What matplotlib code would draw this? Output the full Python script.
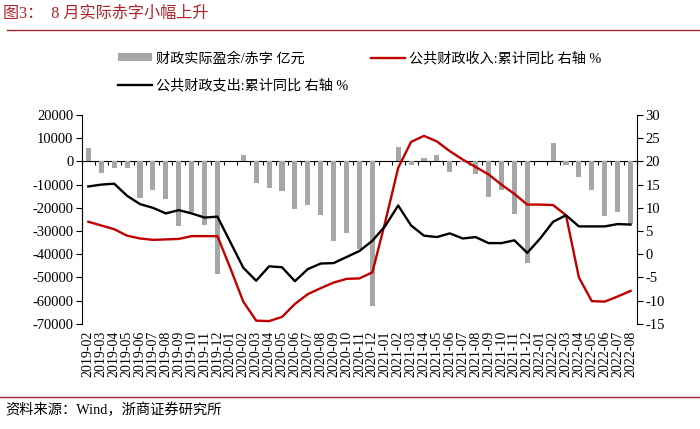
import matplotlib.pyplot as plt
import numpy as np
from matplotlib.lines import Line2D

plt.rcParams['font.family'] = ['Liberation Serif', 'Noto Sans CJK SC']
plt.rcParams['axes.unicode_minus'] = False

# 2019-02 .. 2022-08
months = [f'{y}-{m:02d}' for y in (2019, 2020, 2021, 2022) for m in range(1, 13)]
months = months[1:44]

nan = np.nan
# 财政实际盈余/赤字 (亿元), 1月无数据
balance = [5700, -5000, -3000, -3000, -15700, -12300, -16000, -27800, -22000, -27400, -48400,
           nan, 2900, -9300, -11600, -12600, -20300, -18700, -23100, -34100, -30700, -37800, -62400,
           nan, 6000, -1400, 1400, 2900, -4600, -300, -5300, -15300, -12300, -22700, -43700,
           nan, 7900, -1400, -6600, -12300, -23600, -21700, -27100]

# 公共财政收入:累计同比 (%)
revenue = [7.0, 6.2, 5.4, 4.0, 3.4, 3.1, 3.2, 3.3, 3.9, 3.9, 3.9,
           -3.0, -10.2, -14.3, -14.4, -13.5, -10.7, -8.6, -7.3, -6.1, -5.3, -5.2, -3.9,
           7.0, 18.6, 24.2, 25.5, 24.3, 22.2, 20.4, 18.8, 17.2, 15.0, 13.0, 10.7,
           10.7, 10.6, 8.4, -5.0, -10.1, -10.2, -9.1, -7.9]

# 公共财政支出:累计同比 (%)
spending = [14.6, 15.0, 15.2, 12.6, 10.8, 10.0, 8.8, 9.5, 8.8, 7.9, 8.1,
            2.6, -2.9, -5.7, -2.6, -2.8, -5.8, -3.2, -2.0, -1.9, -0.6, 0.7, 2.9,
            6.1, 10.5, 6.2, 4.0, 3.7, 4.5, 3.4, 3.7, 2.4, 2.4, 3.0, 0.3,
            3.4, 7.0, 8.4, 6.0, 6.0, 6.0, 6.5, 6.4]

x = np.arange(len(months))

fig = plt.figure(figsize=(7, 4.29), dpi=100)
ax = fig.add_axes([0.117, 0.245, 0.793, 0.487])

bars = ax.bar(x, balance, width=0.4, color='#a6a6a6', label='财政实际盈余/赤字 亿元')
ax.set_xlim(-0.5, len(months) - 0.5)
ax.set_ylim(-70000, 20000)
ax.set_yticks(np.arange(-70000, 20001, 10000))
ax.set_xticks(x, months, rotation=90)
ax.tick_params(axis='x', length=0, pad=5, labelsize=10)
ax.tick_params(axis='y', direction='out', length=4, width=0.8, labelsize=10.5, pad=2)
for s in ('top', 'right', 'bottom'):
    ax.spines[s].set_visible(False)
ax.spines['left'].set_linewidth(0.8)

# zero line with small ticks between months
zero = ax.secondary_xaxis(0, transform=ax.transData)
zero.set_xticks(np.arange(-0.5, len(months), 1))
zero.tick_params(axis='x', direction='out', length=3, width=0.8, labelbottom=False)
zero.spines['bottom'].set_linewidth(0.8)

ax2 = ax.twinx()
l_rev, = ax2.plot(x, revenue, color='#c00000', lw=1.7, label='公共财政收入:累计同比 右轴 %')
l_sp, = ax2.plot(x, spending, color='black', lw=1.7, label='公共财政支出:累计同比 右轴 %')
ax2.set_ylim(-15, 30)
ax2.set_yticks(np.arange(-15, 31, 5))
ax2.tick_params(axis='y', direction='out', length=4, width=0.8, labelsize=10.5, pad=2)
for s in ('top', 'left', 'bottom'):
    ax2.spines[s].set_visible(False)
ax2.spines['right'].set_linewidth(0.8)

fig.legend(handles=[bars, l_sp, l_rev], ncol=2, loc='upper left',
           bbox_to_anchor=(0.168, 0.88), frameon=False, fontsize=10.2,
           handlelength=2.4, handleheight=0.5, handletextpad=0.3,
           columnspacing=1.6, labelspacing=0.95, borderpad=0, borderaxespad=0)

fig.text(0.004, 0.967, '图3：  8 月实际赤字小幅上升', color='#b0232b', fontsize=11.6, va='center')
fig.add_artist(Line2D([0.01, 1], [0.930, 0.930], transform=fig.transFigure, color='#a52a35', lw=1))
fig.add_artist(Line2D([0, 1], [0.075, 0.075], transform=fig.transFigure, color='#a52a35', lw=1))
fig.text(0.007, 0.044, '资料来源：Wind，浙商证券研究所', fontsize=10.3, va='center')

fig.savefig('out.png', dpi=100)
